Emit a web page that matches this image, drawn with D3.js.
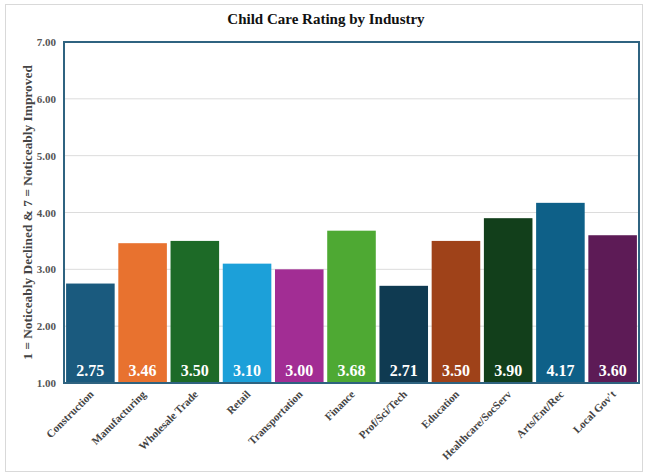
<!DOCTYPE html>
<html><head><meta charset="utf-8">
<script src="https://cdn.jsdelivr.net/npm/d3@7"></script>
<style>body{margin:0;background:#fff}svg{display:block}</style>
</head><body><svg id="c" width="647" height="474"></svg>
<script>
const categories = ["Construction","Manufacturing","Wholesale Trade","Retail","Transportation","Finance","Prof/Sci/Tech","Education","Healthcare/SocServ","Arts/Ent/Rec","Local Gov't"];
const values = [2.75,3.46,3.50,3.10,3.00,3.68,2.71,3.50,3.90,4.17,3.60];
const colors = ["#1a5a7e","#e8722f","#1d6a27","#1ca0d9","#a22d94","#4ea933","#0f3a51","#9f4219","#123f1b","#0e6088","#5d1b56"];
const yTicks = [1,2,3,4,5,6,7];
const title = "Child Care Rating by Industry";
const yLabel = "1 = Noticeably Declined & 7 = Noticeably Improved";

const svg = d3.select("#c");
const font = "'Liberation Serif','Times New Roman',serif";
const m = {l:64, r:8, t:42, b:91};
const W = 647, H = 474;
const iw = W - m.l - m.r, ih = H - m.t - m.b;

svg.append("rect").attr("x",5.5).attr("y",4.5).attr("width",637).attr("height",467)
  .attr("fill","#fff").attr("stroke","#d9d9d9");

const x = d3.scaleBand().domain(categories).range([m.l, m.l+iw]).paddingInner(0.07).paddingOuter(0.04);
const y = d3.scaleLinear().domain([1,7]).range([m.t+ih, m.t]);

svg.append("g").selectAll("line").data(yTicks).join("line")
  .attr("x1",m.l).attr("x2",m.l+iw).attr("y1",d=>y(d)).attr("y2",d=>y(d))
  .attr("stroke","#dcdcdc").attr("stroke-width",1);

const ya = svg.append("g").attr("transform",`translate(${m.l},0)`)
  .call(d3.axisLeft(y).tickValues(yTicks).tickFormat(d3.format(".2f")).tickSize(0).tickPadding(8));
ya.select(".domain").remove();
ya.selectAll("text").attr("font-family",font).attr("font-weight","bold").attr("font-size",11).attr("fill","#555");

svg.append("g").selectAll("rect").data(categories).join("rect")
  .attr("x",d=>x(d)).attr("width",x.bandwidth())
  .attr("y",(d,i)=>y(values[i])).attr("height",(d,i)=>y(1)-y(values[i]))
  .attr("fill",(d,i)=>colors[i]);

svg.append("g").selectAll("text").data(categories).join("text")
  .attr("x",d=>x(d)+x.bandwidth()/2).attr("y",y(1)-7)
  .attr("text-anchor","middle").attr("font-family",font).attr("font-weight","bold")
  .attr("font-size",16).attr("fill","#fff")
  .text((d,i)=>values[i].toFixed(2));

svg.append("rect").attr("x",m.l).attr("y",m.t).attr("width",iw).attr("height",ih)
  .attr("fill","none").attr("stroke","#2f6380").attr("stroke-width",2);

const xa = svg.append("g").attr("transform",`translate(0,${m.t+ih})`)
  .call(d3.axisBottom(x).tickSize(0).tickPadding(0));
xa.select(".domain").remove();
xa.selectAll("text").attr("font-family",font).attr("font-weight","bold").attr("font-size",11).attr("fill","#444")
  .attr("text-anchor","end").attr("dy",0)
  .attr("transform","translate(4,12) rotate(-45)");

svg.append("text").attr("x",326).attr("y",24).attr("text-anchor","middle")
  .attr("font-family",font).attr("font-weight","bold").attr("font-size",15).attr("fill","#111").text(title);

svg.append("text").attr("transform",`translate(32,${m.t+ih/2}) rotate(-90)`).attr("text-anchor","middle")
  .attr("font-family",font).attr("font-weight","bold").attr("font-size",13.4).attr("fill","#444").text(yLabel);
</script></body></html>
